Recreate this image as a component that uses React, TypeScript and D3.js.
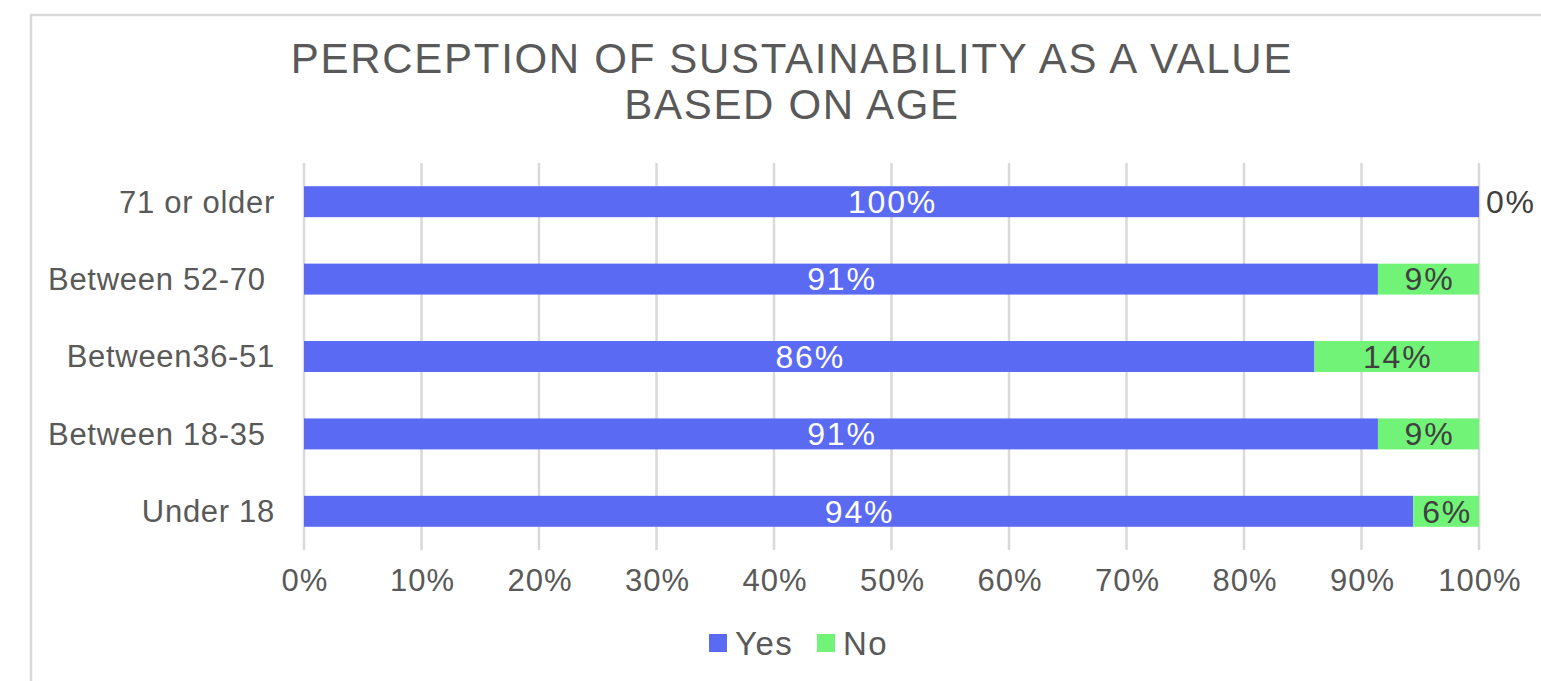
import React from "react";
import * as d3 from "d3";

const categories = ["71 or older", "Between 52-70 ", "Between36-51", "Between 18-35 ", "Under 18"];
const yesValues = [1.0, 0.914, 0.86, 0.914, 0.944];
const noValues = [0.0, 0.086, 0.14, 0.086, 0.056];
const xTicks = [0, 0.1, 0.2, 0.3, 0.4, 0.5, 0.6, 0.7, 0.8, 0.9, 1.0];
const seriesNames = ["Yes", "No"];
const titleLines = ["PERCEPTION OF SUSTAINABILITY AS A VALUE", "BASED ON AGE"];

const W = 1541;
const H = 681;
const BLUE = "#5A6AF3";
const GREEN = "#71F377";
const FONT = "Liberation Sans, Arial, sans-serif";

export default function App() {
  const x = d3.scaleLinear().domain([0, 1]).range([304, 1479]);
  const y = d3.scaleBand<string>().domain(categories).range([163, 550]).paddingInner(0.6).paddingOuter(0.3);
  const fmt = d3.format(".0%");
  const bh = y.bandwidth();

  return (
    <svg width={W} height={H} style={{ position: "absolute", left: 0, top: 0, background: "#fff" }} fontFamily={FONT}>
      <rect x={31} y={15} width={1600} height={800} fill="#fff" stroke="#d9d9d9" strokeWidth={2.5} />
      {titleLines.map((t, i) => (
        <text key={i} x={792} y={73 + i * 46} textAnchor="middle" fontSize={42} fill="#595959" letterSpacing={1.7}>
          {t}
        </text>
      ))}
      {xTicks.map((t) => (
        <g key={t}>
          <line x1={x(t)} x2={x(t)} y1={163} y2={550} stroke="#d9d9d9" strokeWidth={2.5} />
          <text x={x(t) + 1} y={591} textAnchor="middle" fontSize={31} fill="#595959" letterSpacing={1}>
            {fmt(t)}
          </text>
        </g>
      ))}
      {categories.map((c, i) => {
        const yy = y(c)!;
        const yes = yesValues[i];
        const no = noValues[i];
        const cy = yy + bh / 2;
        return (
          <g key={c}>
            <text x={275} y={cy} dy="0.35em" textAnchor="end" fontSize={31} fill="#595959" letterSpacing={0.7} style={{ whiteSpace: "pre" }}>
              {c}
            </text>
            <rect x={x(0)} y={yy} width={x(yes) - x(0)} height={bh} fill={BLUE} />
            <rect x={x(yes)} y={yy} width={x(yes + no) - x(yes)} height={bh} fill={GREEN} />
            <text x={(x(0) + x(yes)) / 2 + 1} y={cy} dy="0.35em" textAnchor="middle" fontSize={32} fill="#ffffff" letterSpacing={1.8}>
              {fmt(yes)}
            </text>
            {no > 0 ? (
              <text x={(x(yes) + x(yes + no)) / 2 + 1} y={cy} dy="0.35em" textAnchor="middle" fontSize={32} fill="#404040" letterSpacing={1.8}>
                {fmt(no)}
              </text>
            ) : (
              <text x={x(yes + no) + 7} y={cy} dy="0.35em" textAnchor="start" fontSize={32} fill="#404040" letterSpacing={1.8}>
                {fmt(no)}
              </text>
            )}
          </g>
        );
      })}
      {seriesNames.map((s, i) => {
        const lx = i === 0 ? 709 : 817;
        return (
          <g key={s}>
            <rect x={lx} y={634} width={18} height={18} fill={i === 0 ? BLUE : GREEN} />
            <text x={lx + 26} y={643} dy="0.35em" fontSize={33} fill="#595959" letterSpacing={1.5}>
              {s}
            </text>
          </g>
        );
      })}
    </svg>
  );
}
